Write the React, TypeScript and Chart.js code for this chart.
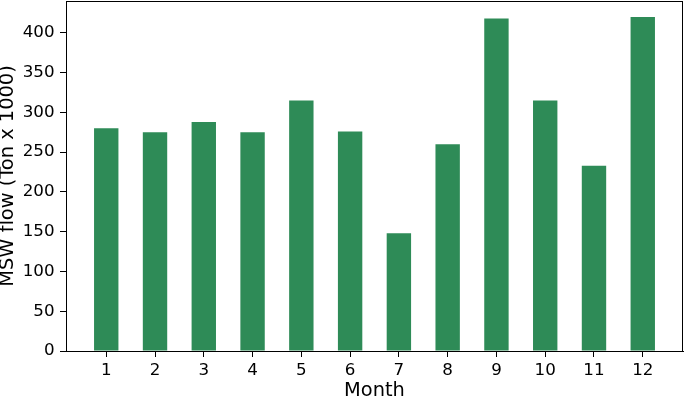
import React, { useEffect, useRef } from "react";
import { Chart, registerables } from "chart.js";

Chart.register(...registerables);

const months: number[] = [1, 2, 3, 4, 5, 6, 7, 8, 9, 10, 11, 12];
const mswFlow: number[] = [280, 275, 288, 275, 315, 276, 148, 260, 418, 315, 233, 420];
const yTicks: number[] = [0, 50, 100, 150, 200, 250, 300, 350, 400];
const xLabel = "Month";
const yLabel = "MSW flow (Ton x 1000)";

const FONT = "'DejaVu Sans', sans-serif";

const framePlugin = {
  id: "frame",
  afterDraw(chart: any) {
    const { ctx, chartArea } = chart;
    ctx.save();
    ctx.strokeStyle = "#000";
    ctx.lineWidth = 1;
    ctx.strokeRect(
      Math.round(chartArea.left) + 0.5,
      Math.round(chartArea.top) + 0.5,
      Math.round(chartArea.right - chartArea.left) - 1,
      Math.round(chartArea.bottom - chartArea.top)
    );
    ctx.restore();
  },
};

export default function App() {
  const ref = useRef<HTMLCanvasElement | null>(null);

  useEffect(() => {
    if (!ref.current) return;
    const chart = new Chart(ref.current, {
      type: "bar",
      data: {
        datasets: [
          {
            data: months.map((m, i) => ({ x: m, y: mswFlow[i] })),
            backgroundColor: "#2E8B57",
            borderWidth: 0,
            barPercentage: 0.5,
            categoryPercentage: 1,
          },
        ],
      },
      options: {
        responsive: false,
        animation: false,
        layout: { padding: { top: 1, right: 2, left: 0, bottom: 0 } },
        plugins: {
          legend: { display: false },
          tooltip: { enabled: false },
        },
        scales: {
          x: {
            type: "linear",
            min: 0.175,
            max: 12.825,
            offset: false,
            afterBuildTicks: (scale: any) => {
              scale.ticks = months.map((v) => ({ value: v }));
            },
            afterFit: (scale: any) => {
              scale.height = 47;
              scale.paddingLeft = 0;
              scale.paddingRight = 0;
            },
            ticks: {
              color: "#000",
              font: { family: FONT, size: 16.7 },
              padding: 4,
              maxRotation: 0,
              autoSkip: false,
              callback: (v: any) => String(v),
            },
            grid: {
              display: true,
              offset: false,
              drawOnChartArea: false,
              drawTicks: true,
              tickLength: 6,
              color: "#000",
              tickColor: "#000",
            },
            border: { display: true, color: "#000", width: 1 },
            title: {
              display: true,
              text: xLabel,
              color: "#000",
              font: { family: FONT, size: 19.4, lineHeight: 1 },
              padding: { top: 0, bottom: -3 },
            },
          },
          y: {
            type: "linear",
            min: 0,
            max: 440,
            afterBuildTicks: (scale: any) => {
              scale.ticks = yTicks.map((v) => ({ value: v }));
            },
            afterFit: (scale: any) => {
              scale.width = 66;
              scale.paddingTop = 0;
              scale.paddingBottom = 0;
            },
            ticks: {
              color: "#000",
              font: { family: FONT, size: 16.7 },
              padding: 5.5,
              callback: (v: any) => String(v),
            },
            grid: {
              display: true,
              drawOnChartArea: false,
              drawTicks: true,
              tickLength: 6,
              color: "#000",
              tickColor: "#000",
            },
            border: { display: true, color: "#000", width: 1 },
            title: {
              display: true,
              text: yLabel,
              color: "#000",
              font: { family: FONT, size: 19.4, lineHeight: 1 },
              padding: { top: -1.5, bottom: 0 },
            },
          },
        },
      },
      plugins: [framePlugin],
    } as any);
    return () => chart.destroy();
  }, []);

  return (
    <div style={{ position: "absolute", left: 0, top: 0, width: 685, height: 398, background: "#fff" }}>
      <canvas ref={ref} width={685} height={398} style={{ display: "block" }} />
    </div>
  );
}
